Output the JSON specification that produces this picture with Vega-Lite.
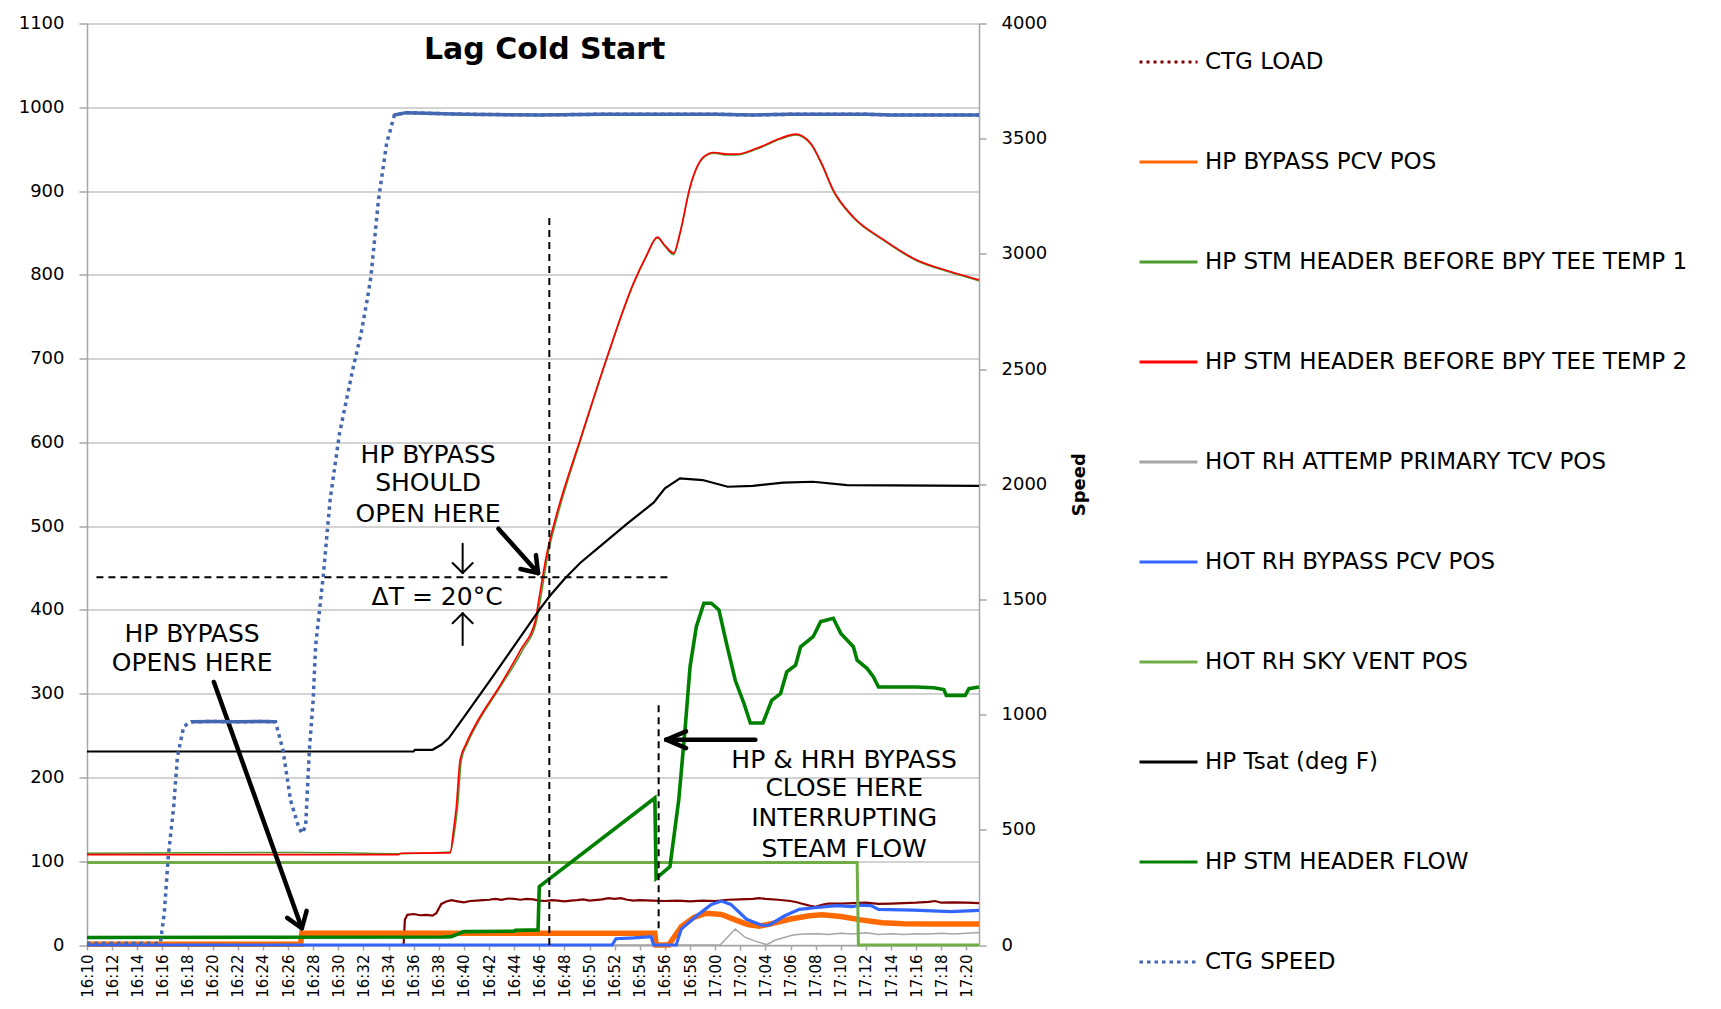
{
  "$schema": "https://vega.github.io/schema/vega-lite/v6.json",
  "width": 892,
  "height": 921.5,
  "autosize": {"type": "none"},
  "padding": {"left": 87, "top": 23.5, "right": 742, "bottom": 64},
  "background": "white",
  "config": {
    "view": {"stroke": null},
    "font": "DejaVu Sans",
    "axis": {"labelFont": "DejaVu Sans", "labelColor": "#000000", "domainColor": "#a6a6a6", "tickColor": "#a6a6a6", "domainWidth": 1.5, "tickWidth": 1.5},
    "axisX": {"labelOverlap": false, "labelFlush": false, "labelBound": false, "labelAngle": 270, "labelFontSize": 15, "tickSize": 5, "labelPadding": 4, "tickCount": 40}
  },
  "datasets": {
    "ctg_load": [
      {"t": "2024-01-01T16:10:00", "v": 0}, {"t": "2024-01-01T16:35:12", "v": 0}, {"t": "2024-01-01T16:35:18", "v": 30}, {"t": "2024-01-01T16:35:30", "v": 36},
      {"t": "2024-01-01T16:36:00", "v": 37}, {"t": "2024-01-01T16:36:30", "v": 35.5}, {"t": "2024-01-01T16:37:00", "v": 36}, {"t": "2024-01-01T16:37:30", "v": 35},
      {"t": "2024-01-01T16:37:48", "v": 38}, {"t": "2024-01-01T16:38:12", "v": 49}, {"t": "2024-01-01T16:38:36", "v": 52}, {"t": "2024-01-01T16:39:00", "v": 53.5},
      {"t": "2024-01-01T16:39:30", "v": 52}, {"t": "2024-01-01T16:40:00", "v": 51}, {"t": "2024-01-01T16:40:30", "v": 52.5}, {"t": "2024-01-01T16:41:00", "v": 53},
      {"t": "2024-01-01T16:41:30", "v": 53.5}, {"t": "2024-01-01T16:42:00", "v": 54}, {"t": "2024-01-01T16:42:30", "v": 55}, {"t": "2024-01-01T16:43:00", "v": 54},
      {"t": "2024-01-01T16:43:30", "v": 55.5}, {"t": "2024-01-01T16:44:00", "v": 55}, {"t": "2024-01-01T16:44:30", "v": 54}, {"t": "2024-01-01T16:45:00", "v": 55},
      {"t": "2024-01-01T16:45:30", "v": 54.5}, {"t": "2024-01-01T16:46:00", "v": 53}, {"t": "2024-01-01T16:46:30", "v": 52.5}, {"t": "2024-01-01T16:47:00", "v": 53.5},
      {"t": "2024-01-01T16:47:30", "v": 53}, {"t": "2024-01-01T16:48:00", "v": 52}, {"t": "2024-01-01T16:48:30", "v": 53}, {"t": "2024-01-01T16:49:00", "v": 53.5},
      {"t": "2024-01-01T16:49:30", "v": 54.5}, {"t": "2024-01-01T16:50:00", "v": 53}, {"t": "2024-01-01T16:51:00", "v": 54.5}, {"t": "2024-01-01T16:51:30", "v": 56},
      {"t": "2024-01-01T16:52:00", "v": 55}, {"t": "2024-01-01T16:52:30", "v": 56}, {"t": "2024-01-01T16:53:00", "v": 54}, {"t": "2024-01-01T16:53:30", "v": 53},
      {"t": "2024-01-01T16:54:00", "v": 53.5}, {"t": "2024-01-01T16:55:00", "v": 53}, {"t": "2024-01-01T16:56:00", "v": 52.5}, {"t": "2024-01-01T16:57:00", "v": 53},
      {"t": "2024-01-01T16:58:00", "v": 52}, {"t": "2024-01-01T16:59:00", "v": 53}, {"t": "2024-01-01T17:00:00", "v": 52.5}, {"t": "2024-01-01T17:01:00", "v": 54},
      {"t": "2024-01-01T17:02:00", "v": 54.5}, {"t": "2024-01-01T17:03:00", "v": 55}, {"t": "2024-01-01T17:03:30", "v": 56}, {"t": "2024-01-01T17:04:00", "v": 55},
      {"t": "2024-01-01T17:05:00", "v": 54}, {"t": "2024-01-01T17:06:00", "v": 52.5}, {"t": "2024-01-01T17:06:30", "v": 51}, {"t": "2024-01-01T17:07:00", "v": 49},
      {"t": "2024-01-01T17:07:30", "v": 47}, {"t": "2024-01-01T17:08:00", "v": 45.7}, {"t": "2024-01-01T17:08:30", "v": 48}, {"t": "2024-01-01T17:09:00", "v": 49.5},
      {"t": "2024-01-01T17:10:00", "v": 49.5}, {"t": "2024-01-01T17:11:00", "v": 50}, {"t": "2024-01-01T17:12:00", "v": 50.5}, {"t": "2024-01-01T17:13:00", "v": 49},
      {"t": "2024-01-01T17:14:00", "v": 49.5}, {"t": "2024-01-01T17:15:00", "v": 50}, {"t": "2024-01-01T17:16:00", "v": 50.5}, {"t": "2024-01-01T17:17:00", "v": 51.5},
      {"t": "2024-01-01T17:17:30", "v": 52.5}, {"t": "2024-01-01T17:18:00", "v": 50.5}, {"t": "2024-01-01T17:19:00", "v": 51}, {"t": "2024-01-01T17:20:00", "v": 50.5},
      {"t": "2024-01-01T17:21:00", "v": 50}
    ],
    "hp_bypass": [
      {"t": "2024-01-01T16:10:00", "v": 1}, {"t": "2024-01-01T16:27:00", "v": 1}, {"t": "2024-01-01T16:27:06", "v": 14}, {"t": "2024-01-01T16:55:12", "v": 14},
      {"t": "2024-01-01T16:55:18", "v": 0}, {"t": "2024-01-01T16:56:18", "v": 0}, {"t": "2024-01-01T16:57:18", "v": 22}, {"t": "2024-01-01T16:58:18", "v": 33},
      {"t": "2024-01-01T16:59:18", "v": 38}, {"t": "2024-01-01T17:00:30", "v": 36.5}, {"t": "2024-01-01T17:01:36", "v": 30}, {"t": "2024-01-01T17:02:36", "v": 24.5},
      {"t": "2024-01-01T17:03:30", "v": 22.5}, {"t": "2024-01-01T17:04:30", "v": 25.5}, {"t": "2024-01-01T17:06:00", "v": 31}, {"t": "2024-01-01T17:07:30", "v": 35},
      {"t": "2024-01-01T17:08:30", "v": 36}, {"t": "2024-01-01T17:10:00", "v": 34}, {"t": "2024-01-01T17:11:36", "v": 30}, {"t": "2024-01-01T17:13:18", "v": 26.5},
      {"t": "2024-01-01T17:15:00", "v": 25.5}, {"t": "2024-01-01T17:17:18", "v": 25}, {"t": "2024-01-01T17:21:00", "v": 25}
    ],
    "temp1": [
      {"t": "2024-01-01T16:10:00", "v": 109.5}, {"t": "2024-01-01T16:27:30", "v": 110.5}, {"t": "2024-01-01T16:30:30", "v": 110}, {"t": "2024-01-01T16:34:48", "v": 109},
      {"t": "2024-01-01T16:38:54", "v": 111}, {"t": "2024-01-01T16:39:18", "v": 140}, {"t": "2024-01-01T16:39:30", "v": 165}, {"t": "2024-01-01T16:39:48", "v": 221},
      {"t": "2024-01-01T16:40:18", "v": 241}, {"t": "2024-01-01T16:41:06", "v": 265}, {"t": "2024-01-01T16:42:54", "v": 308}, {"t": "2024-01-01T16:44:36", "v": 350},
      {"t": "2024-01-01T16:45:48", "v": 388}, {"t": "2024-01-01T16:46:00", "v": 404}, {"t": "2024-01-01T16:46:42", "v": 467}, {"t": "2024-01-01T16:47:30", "v": 515},
      {"t": "2024-01-01T16:49:18", "v": 603}, {"t": "2024-01-01T16:51:24", "v": 701}, {"t": "2024-01-01T16:53:30", "v": 789}, {"t": "2024-01-01T16:54:30", "v": 821},
      {"t": "2024-01-01T16:55:24", "v": 844}, {"t": "2024-01-01T16:56:00", "v": 834}, {"t": "2024-01-01T16:56:42", "v": 824}, {"t": "2024-01-01T16:57:12", "v": 849},
      {"t": "2024-01-01T16:58:00", "v": 904}, {"t": "2024-01-01T16:59:06", "v": 940}, {"t": "2024-01-01T16:59:54", "v": 945}, {"t": "2024-01-01T17:01:00", "v": 943},
      {"t": "2024-01-01T17:01:42", "v": 943}, {"t": "2024-01-01T17:03:18", "v": 950}, {"t": "2024-01-01T17:05:12", "v": 962}, {"t": "2024-01-01T17:06:24", "v": 967},
      {"t": "2024-01-01T17:07:36", "v": 956}, {"t": "2024-01-01T17:08:30", "v": 931}, {"t": "2024-01-01T17:09:24", "v": 900}, {"t": "2024-01-01T17:11:00", "v": 868},
      {"t": "2024-01-01T17:13:24", "v": 841}, {"t": "2024-01-01T17:16:00", "v": 817}, {"t": "2024-01-01T17:18:42", "v": 803}, {"t": "2024-01-01T17:21:00", "v": 793}
    ],
    "temp2": [
      {"t": "2024-01-01T16:10:00", "v": 108}, {"t": "2024-01-01T16:34:48", "v": 108}, {"t": "2024-01-01T16:35:00", "v": 109.5}, {"t": "2024-01-01T16:38:54", "v": 110},
      {"t": "2024-01-01T16:39:12", "v": 140}, {"t": "2024-01-01T16:39:24", "v": 165}, {"t": "2024-01-01T16:39:42", "v": 221}, {"t": "2024-01-01T16:40:12", "v": 241},
      {"t": "2024-01-01T16:41:00", "v": 265}, {"t": "2024-01-01T16:42:48", "v": 308}, {"t": "2024-01-01T16:44:30", "v": 352}, {"t": "2024-01-01T16:45:42", "v": 388},
      {"t": "2024-01-01T16:45:54", "v": 406}, {"t": "2024-01-01T16:46:36", "v": 467}, {"t": "2024-01-01T16:47:24", "v": 515}, {"t": "2024-01-01T16:49:15", "v": 603},
      {"t": "2024-01-01T16:51:24", "v": 702}, {"t": "2024-01-01T16:53:30", "v": 790}, {"t": "2024-01-01T16:54:30", "v": 822}, {"t": "2024-01-01T16:55:24", "v": 845},
      {"t": "2024-01-01T16:56:00", "v": 835}, {"t": "2024-01-01T16:56:42", "v": 826}, {"t": "2024-01-01T16:57:12", "v": 850}, {"t": "2024-01-01T16:58:00", "v": 905},
      {"t": "2024-01-01T16:59:06", "v": 941}, {"t": "2024-01-01T16:59:54", "v": 946}, {"t": "2024-01-01T17:01:00", "v": 944}, {"t": "2024-01-01T17:01:42", "v": 944},
      {"t": "2024-01-01T17:03:18", "v": 951}, {"t": "2024-01-01T17:05:12", "v": 963}, {"t": "2024-01-01T17:06:24", "v": 968}, {"t": "2024-01-01T17:07:36", "v": 957},
      {"t": "2024-01-01T17:08:30", "v": 932}, {"t": "2024-01-01T17:09:24", "v": 901}, {"t": "2024-01-01T17:11:00", "v": 869}, {"t": "2024-01-01T17:13:24", "v": 842},
      {"t": "2024-01-01T17:16:00", "v": 818}, {"t": "2024-01-01T17:18:42", "v": 804}, {"t": "2024-01-01T17:21:00", "v": 794}
    ],
    "attemp": [
      {"t": "2024-01-01T16:10:00", "v": 0}, {"t": "2024-01-01T17:00:24", "v": 0}, {"t": "2024-01-01T17:01:36", "v": 19}, {"t": "2024-01-01T17:02:24", "v": 9},
      {"t": "2024-01-01T17:03:18", "v": 4}, {"t": "2024-01-01T17:04:06", "v": 0.5}, {"t": "2024-01-01T17:04:48", "v": 6}, {"t": "2024-01-01T17:06:12", "v": 12},
      {"t": "2024-01-01T17:07:00", "v": 13}, {"t": "2024-01-01T17:08:12", "v": 13.5}, {"t": "2024-01-01T17:09:00", "v": 12.5}, {"t": "2024-01-01T17:10:00", "v": 14},
      {"t": "2024-01-01T17:11:00", "v": 13}, {"t": "2024-01-01T17:12:00", "v": 14.5}, {"t": "2024-01-01T17:13:00", "v": 12.5}, {"t": "2024-01-01T17:14:00", "v": 13.5},
      {"t": "2024-01-01T17:15:00", "v": 12.5}, {"t": "2024-01-01T17:16:00", "v": 13.5}, {"t": "2024-01-01T17:17:00", "v": 13}, {"t": "2024-01-01T17:18:00", "v": 14},
      {"t": "2024-01-01T17:19:00", "v": 13}, {"t": "2024-01-01T17:20:00", "v": 14}, {"t": "2024-01-01T17:21:00", "v": 15}
    ],
    "hrh_bypass": [
      {"t": "2024-01-01T16:10:00", "v": 0}, {"t": "2024-01-01T16:51:48", "v": 0}, {"t": "2024-01-01T16:52:06", "v": 7.5}, {"t": "2024-01-01T16:53:30", "v": 8.5},
      {"t": "2024-01-01T16:54:54", "v": 10}, {"t": "2024-01-01T16:55:06", "v": 0}, {"t": "2024-01-01T16:56:54", "v": 0}, {"t": "2024-01-01T16:57:18", "v": 19},
      {"t": "2024-01-01T16:58:30", "v": 34.6}, {"t": "2024-01-01T16:59:42", "v": 48.4}, {"t": "2024-01-01T17:00:30", "v": 52.4}, {"t": "2024-01-01T17:01:15", "v": 48.4},
      {"t": "2024-01-01T17:02:30", "v": 30.7}, {"t": "2024-01-01T17:03:42", "v": 23.6}, {"t": "2024-01-01T17:04:18", "v": 23.6}, {"t": "2024-01-01T17:05:30", "v": 34.6},
      {"t": "2024-01-01T17:06:42", "v": 42.5}, {"t": "2024-01-01T17:07:54", "v": 44.5}, {"t": "2024-01-01T17:09:42", "v": 47}, {"t": "2024-01-01T17:10:54", "v": 45.7},
      {"t": "2024-01-01T17:11:30", "v": 47.5}, {"t": "2024-01-01T17:12:24", "v": 47}, {"t": "2024-01-01T17:13:00", "v": 42.5}, {"t": "2024-01-01T17:15:45", "v": 41.7},
      {"t": "2024-01-01T17:18:45", "v": 39.8}, {"t": "2024-01-01T17:21:00", "v": 41.3}
    ],
    "sky_vent": [
      {"t": "2024-01-01T16:10:00", "v": 98.5}, {"t": "2024-01-01T17:11:18", "v": 98.5}, {"t": "2024-01-01T17:11:24", "v": 0}, {"t": "2024-01-01T17:21:00", "v": 0}
    ],
    "tsat": [
      {"t": "2024-01-01T16:10:00", "v": 231}, {"t": "2024-01-01T16:36:00", "v": 231}, {"t": "2024-01-01T16:36:06", "v": 233}, {"t": "2024-01-01T16:37:30", "v": 233},
      {"t": "2024-01-01T16:38:12", "v": 239}, {"t": "2024-01-01T16:38:48", "v": 247}, {"t": "2024-01-01T16:40:00", "v": 272}, {"t": "2024-01-01T16:42:00", "v": 314},
      {"t": "2024-01-01T16:44:00", "v": 357}, {"t": "2024-01-01T16:46:00", "v": 400}, {"t": "2024-01-01T16:46:48", "v": 416}, {"t": "2024-01-01T16:48:00", "v": 437},
      {"t": "2024-01-01T16:49:15", "v": 456}, {"t": "2024-01-01T16:51:00", "v": 478}, {"t": "2024-01-01T16:53:00", "v": 503}, {"t": "2024-01-01T16:55:06", "v": 528},
      {"t": "2024-01-01T16:56:00", "v": 545}, {"t": "2024-01-01T16:57:12", "v": 557}, {"t": "2024-01-01T16:59:00", "v": 555}, {"t": "2024-01-01T17:01:00", "v": 547},
      {"t": "2024-01-01T17:03:00", "v": 548}, {"t": "2024-01-01T17:05:24", "v": 552}, {"t": "2024-01-01T17:07:48", "v": 553}, {"t": "2024-01-01T17:10:30", "v": 549},
      {"t": "2024-01-01T17:21:00", "v": 548}
    ],
    "flow": [
      {"t": "2024-01-01T16:10:00", "v": 9}, {"t": "2024-01-01T16:38:24", "v": 9.5}, {"t": "2024-01-01T16:39:00", "v": 10}, {"t": "2024-01-01T16:40:00", "v": 16},
      {"t": "2024-01-01T16:44:00", "v": 16.5}, {"t": "2024-01-01T16:44:06", "v": 17.5}, {"t": "2024-01-01T16:45:54", "v": 18}, {"t": "2024-01-01T16:46:00", "v": 69.6},
      {"t": "2024-01-01T16:55:12", "v": 175.5}, {"t": "2024-01-01T16:55:18", "v": 79.6}, {"t": "2024-01-01T16:56:24", "v": 93.5}, {"t": "2024-01-01T16:57:06", "v": 173},
      {"t": "2024-01-01T16:57:36", "v": 257}, {"t": "2024-01-01T16:58:00", "v": 332}, {"t": "2024-01-01T16:58:30", "v": 380}, {"t": "2024-01-01T16:59:06", "v": 408},
      {"t": "2024-01-01T16:59:42", "v": 408}, {"t": "2024-01-01T17:00:18", "v": 400}, {"t": "2024-01-01T17:00:54", "v": 360}, {"t": "2024-01-01T17:01:36", "v": 316},
      {"t": "2024-01-01T17:02:18", "v": 288}, {"t": "2024-01-01T17:02:48", "v": 265}, {"t": "2024-01-01T17:03:48", "v": 265}, {"t": "2024-01-01T17:04:30", "v": 292},
      {"t": "2024-01-01T17:05:12", "v": 300}, {"t": "2024-01-01T17:05:42", "v": 326}, {"t": "2024-01-01T17:06:24", "v": 334}, {"t": "2024-01-01T17:06:48", "v": 356},
      {"t": "2024-01-01T17:07:48", "v": 368}, {"t": "2024-01-01T17:08:24", "v": 386}, {"t": "2024-01-01T17:09:24", "v": 390}, {"t": "2024-01-01T17:10:00", "v": 372},
      {"t": "2024-01-01T17:11:00", "v": 356}, {"t": "2024-01-01T17:11:18", "v": 340}, {"t": "2024-01-01T17:12:06", "v": 330}, {"t": "2024-01-01T17:12:36", "v": 320},
      {"t": "2024-01-01T17:13:00", "v": 308}, {"t": "2024-01-01T17:16:00", "v": 308}, {"t": "2024-01-01T17:17:24", "v": 307}, {"t": "2024-01-01T17:18:12", "v": 305},
      {"t": "2024-01-01T17:18:24", "v": 298}, {"t": "2024-01-01T17:19:54", "v": 298}, {"t": "2024-01-01T17:20:12", "v": 306}, {"t": "2024-01-01T17:21:00", "v": 308}
    ],
    "ctg_speed": [
      {"t": "2024-01-01T16:10:00", "v": 8}, {"t": "2024-01-01T16:15:50", "v": 8}, {"t": "2024-01-01T16:16:09", "v": 137}, {"t": "2024-01-01T16:16:28", "v": 384},
      {"t": "2024-01-01T16:16:54", "v": 600}, {"t": "2024-01-01T16:17:12", "v": 818}, {"t": "2024-01-01T16:17:42", "v": 949}, {"t": "2024-01-01T16:18:18", "v": 969},
      {"t": "2024-01-01T16:20:00", "v": 970}, {"t": "2024-01-01T16:22:00", "v": 969}, {"t": "2024-01-01T16:24:00", "v": 970}, {"t": "2024-01-01T16:25:00", "v": 969},
      {"t": "2024-01-01T16:25:36", "v": 846}, {"t": "2024-01-01T16:26:12", "v": 629}, {"t": "2024-01-01T16:26:48", "v": 520}, {"t": "2024-01-01T16:27:06", "v": 485},
      {"t": "2024-01-01T16:27:24", "v": 514}, {"t": "2024-01-01T16:27:42", "v": 846}, {"t": "2024-01-01T16:28:00", "v": 1062}, {"t": "2024-01-01T16:28:12", "v": 1300},
      {"t": "2024-01-01T16:28:48", "v": 1599}, {"t": "2024-01-01T16:29:21", "v": 1932}, {"t": "2024-01-01T16:30:06", "v": 2221}, {"t": "2024-01-01T16:31:12", "v": 2510},
      {"t": "2024-01-01T16:31:48", "v": 2650}, {"t": "2024-01-01T16:32:18", "v": 2800}, {"t": "2024-01-01T16:32:36", "v": 2901}, {"t": "2024-01-01T16:33:12", "v": 3234},
      {"t": "2024-01-01T16:33:51", "v": 3480}, {"t": "2024-01-01T16:34:09", "v": 3538}, {"t": "2024-01-01T16:34:28", "v": 3603}, {"t": "2024-01-01T16:35:24", "v": 3613},
      {"t": "2024-01-01T16:40:00", "v": 3606}, {"t": "2024-01-01T16:46:00", "v": 3603}, {"t": "2024-01-01T16:51:00", "v": 3606}, {"t": "2024-01-01T16:56:00", "v": 3606},
      {"t": "2024-01-01T17:00:00", "v": 3606}, {"t": "2024-01-01T17:03:00", "v": 3603}, {"t": "2024-01-01T17:06:00", "v": 3606}, {"t": "2024-01-01T17:12:00", "v": 3606},
      {"t": "2024-01-01T17:14:00", "v": 3603}, {"t": "2024-01-01T17:21:00", "v": 3603}
    ],
    "dashes": [
      {"t": "2024-01-01T16:46:48", "t2": "2024-01-01T16:46:48", "v": 0, "v2": 869},
      {"t": "2024-01-01T16:55:30", "t2": "2024-01-01T16:55:30", "v": 20, "v2": 292},
      {"t": "2024-01-01T16:10:45", "t2": "2024-01-01T16:56:20", "v": 439, "v2": 439}
    ],
    "arrows": [
      {"w": "thick", "t": "2024-01-01T16:20:06", "v": 314, "t2": "2024-01-01T16:27:06", "v2": 20},
      {"w": "thick", "t": "2024-01-01T16:27:06", "v": 20, "t2": "2024-01-01T16:27:29", "v2": 40.8},
      {"w": "thick", "t": "2024-01-01T16:27:06", "v": 20, "t2": "2024-01-01T16:25:56", "v2": 32.4},
      {"w": "thick", "t": "2024-01-01T16:42:45", "v": 497, "t2": "2024-01-01T16:45:54", "v2": 444},
      {"w": "thick", "t": "2024-01-01T16:45:54", "v": 444, "t2": "2024-01-01T16:45:44", "v2": 465.4},
      {"w": "thick", "t": "2024-01-01T16:45:54", "v": 444, "t2": "2024-01-01T16:44:30", "v2": 448.9},
      {"w": "thick", "t": "2024-01-01T17:03:12", "v": 245, "t2": "2024-01-01T16:56:06", "v2": 245},
      {"w": "thick", "t": "2024-01-01T16:56:06", "v": 245, "t2": "2024-01-01T16:57:41", "v2": 255},
      {"w": "thick", "t": "2024-01-01T16:56:06", "v": 245, "t2": "2024-01-01T16:57:41", "v2": 235},
      {"w": "thin", "t": "2024-01-01T16:39:54", "v": 479, "t2": "2024-01-01T16:39:54", "v2": 444},
      {"w": "thin", "t": "2024-01-01T16:39:54", "v": 444, "t2": "2024-01-01T16:39:06", "v2": 456},
      {"w": "thin", "t": "2024-01-01T16:39:54", "v": 444, "t2": "2024-01-01T16:40:42", "v2": 456},
      {"w": "thin", "t": "2024-01-01T16:39:54", "v": 358, "t2": "2024-01-01T16:39:54", "v2": 396},
      {"w": "thin", "t": "2024-01-01T16:39:54", "v": 396, "t2": "2024-01-01T16:39:06", "v2": 384},
      {"w": "thin", "t": "2024-01-01T16:39:54", "v": 396, "t2": "2024-01-01T16:40:42", "v2": 384}
    ],
    "notes": [
      {"t": "2024-01-01T16:37:09", "v": 585, "label": "HP BYPASS"},
      {"t": "2024-01-01T16:37:09", "v": 551, "label": "SHOULD"},
      {"t": "2024-01-01T16:37:09", "v": 515, "label": "OPEN HERE"},
      {"t": "2024-01-01T16:37:52", "v": 415, "label": "ΔT = 20°C"},
      {"t": "2024-01-01T16:18:22", "v": 371, "label": "HP BYPASS"},
      {"t": "2024-01-01T16:18:22", "v": 337, "label": "OPENS HERE"},
      {"t": "2024-01-01T17:10:16", "v": 221, "label": "HP & HRH BYPASS"},
      {"t": "2024-01-01T17:10:16", "v": 187, "label": "CLOSE HERE"},
      {"t": "2024-01-01T17:10:16", "v": 152, "label": "INTERRUPTING"},
      {"t": "2024-01-01T17:10:16", "v": 115, "label": "STEAM FLOW"}
    ],
    "heading": [
      {"t": "2024-01-01T16:46:26", "v": 1068, "label": "Lag Cold Start"}
    ]
  },
  "layer": [
    {
      "layer": [
        {
          "data": {"name": "ctg_load"},
          "mark": {"type": "line", "strokeWidth": 2.2},
          "encoding": {
            "x": {
              "field": "t", "type": "temporal",
              "scale": {"domain": [{"year": 2024, "month": 1, "date": 1, "hours": 16, "minutes": 10}, {"year": 2024, "month": 1, "date": 1, "hours": 17, "minutes": 21}]},
              "axis": {"title": null, "format": "%H:%M", "labelAngle": 270, "tickCount": 40,
                "values": [
                  {"year": 2024, "month": 1, "date": 1, "hours": 16, "minutes": 10}, {"year": 2024, "month": 1, "date": 1, "hours": 16, "minutes": 12},
                  {"year": 2024, "month": 1, "date": 1, "hours": 16, "minutes": 14}, {"year": 2024, "month": 1, "date": 1, "hours": 16, "minutes": 16},
                  {"year": 2024, "month": 1, "date": 1, "hours": 16, "minutes": 18}, {"year": 2024, "month": 1, "date": 1, "hours": 16, "minutes": 20},
                  {"year": 2024, "month": 1, "date": 1, "hours": 16, "minutes": 22}, {"year": 2024, "month": 1, "date": 1, "hours": 16, "minutes": 24},
                  {"year": 2024, "month": 1, "date": 1, "hours": 16, "minutes": 26}, {"year": 2024, "month": 1, "date": 1, "hours": 16, "minutes": 28},
                  {"year": 2024, "month": 1, "date": 1, "hours": 16, "minutes": 30}, {"year": 2024, "month": 1, "date": 1, "hours": 16, "minutes": 32},
                  {"year": 2024, "month": 1, "date": 1, "hours": 16, "minutes": 34}, {"year": 2024, "month": 1, "date": 1, "hours": 16, "minutes": 36},
                  {"year": 2024, "month": 1, "date": 1, "hours": 16, "minutes": 38}, {"year": 2024, "month": 1, "date": 1, "hours": 16, "minutes": 40},
                  {"year": 2024, "month": 1, "date": 1, "hours": 16, "minutes": 42}, {"year": 2024, "month": 1, "date": 1, "hours": 16, "minutes": 44},
                  {"year": 2024, "month": 1, "date": 1, "hours": 16, "minutes": 46}, {"year": 2024, "month": 1, "date": 1, "hours": 16, "minutes": 48},
                  {"year": 2024, "month": 1, "date": 1, "hours": 16, "minutes": 50}, {"year": 2024, "month": 1, "date": 1, "hours": 16, "minutes": 52},
                  {"year": 2024, "month": 1, "date": 1, "hours": 16, "minutes": 54}, {"year": 2024, "month": 1, "date": 1, "hours": 16, "minutes": 56},
                  {"year": 2024, "month": 1, "date": 1, "hours": 16, "minutes": 58}, {"year": 2024, "month": 1, "date": 1, "hours": 17, "minutes": 0},
                  {"year": 2024, "month": 1, "date": 1, "hours": 17, "minutes": 2}, {"year": 2024, "month": 1, "date": 1, "hours": 17, "minutes": 4},
                  {"year": 2024, "month": 1, "date": 1, "hours": 17, "minutes": 6}, {"year": 2024, "month": 1, "date": 1, "hours": 17, "minutes": 8},
                  {"year": 2024, "month": 1, "date": 1, "hours": 17, "minutes": 10}, {"year": 2024, "month": 1, "date": 1, "hours": 17, "minutes": 12},
                  {"year": 2024, "month": 1, "date": 1, "hours": 17, "minutes": 14}, {"year": 2024, "month": 1, "date": 1, "hours": 17, "minutes": 16},
                  {"year": 2024, "month": 1, "date": 1, "hours": 17, "minutes": 18}, {"year": 2024, "month": 1, "date": 1, "hours": 17, "minutes": 20}
                ],
                "labelFontSize": 15, "tickSize": 5, "labelPadding": 4, "grid": false, "labelOverlap": false, "labelFlush": false, "labelBound": false}
            },
            "y": {
              "field": "v", "type": "quantitative",
              "scale": {"domain": [0, 1100], "nice": false, "zero": true},
              "axis": {"title": null, "format": "d", "values": [0, 100, 200, 300, 400, 500, 600, 700, 800, 900, 1000, 1100], "grid": true, "gridColor": "#c4c4c4", "gridWidth": 1.5, "tickSize": 8, "labelPadding": 15, "labelFontSize": 18}
            },
            "color": {
              "datum": "CTG LOAD", "type": "nominal",
              "scale": {
                "domain": ["CTG LOAD", "HP BYPASS PCV POS", "HP STM HEADER BEFORE BPY TEE TEMP 1", "HP STM HEADER BEFORE BPY TEE TEMP 2", "HOT RH ATTEMP PRIMARY TCV POS", "HOT RH BYPASS PCV POS", "HOT RH SKY VENT POS", "HP Tsat (deg F)", "HP STM HEADER FLOW", "CTG SPEED"],
                "range": ["#7f0000", "#ff6a00", "#4e9a2e", "#ff0000", "#a6a6a6", "#3366ff", "#70ad47", "#000000", "#008000", "#4468b0"]
              },
              "legend": {
                "orient": "none", "legendX": 1051, "legendY": 8, "title": null,
                "labelFont": "DejaVu Sans", "labelFontSize": 23, "labelColor": "#000000", "labelLimit": 700, "labelOffset": 6,
                "symbolType": "stroke", "symbolSize": 3364, "symbolStrokeWidth": 3, "rowPadding": 57, "padding": 0
              }
            }
          }
        },
        {
          "data": {"name": "hp_bypass"},
          "mark": {"type": "line", "strokeWidth": 5.5},
          "encoding": {"x": {"field": "t", "type": "temporal"}, "y": {"field": "v", "type": "quantitative"}, "color": {"datum": "HP BYPASS PCV POS", "type": "nominal"}}
        },
        {
          "data": {"name": "temp1"},
          "mark": {"type": "line", "strokeWidth": 1.5, "interpolate": "monotone"},
          "encoding": {"x": {"field": "t", "type": "temporal"}, "y": {"field": "v", "type": "quantitative"}, "color": {"datum": "HP STM HEADER BEFORE BPY TEE TEMP 1", "type": "nominal"}}
        },
        {
          "data": {"name": "temp2"},
          "mark": {"type": "line", "strokeWidth": 1.7, "interpolate": "monotone"},
          "encoding": {"x": {"field": "t", "type": "temporal"}, "y": {"field": "v", "type": "quantitative"}, "color": {"datum": "HP STM HEADER BEFORE BPY TEE TEMP 2", "type": "nominal"}}
        },
        {
          "data": {"name": "attemp"},
          "mark": {"type": "line", "strokeWidth": 1.5},
          "encoding": {"x": {"field": "t", "type": "temporal"}, "y": {"field": "v", "type": "quantitative"}, "color": {"datum": "HOT RH ATTEMP PRIMARY TCV POS", "type": "nominal"}}
        },
        {
          "data": {"name": "hrh_bypass"},
          "mark": {"type": "line", "strokeWidth": 3.2},
          "encoding": {"x": {"field": "t", "type": "temporal"}, "y": {"field": "v", "type": "quantitative"}, "color": {"datum": "HOT RH BYPASS PCV POS", "type": "nominal"}}
        },
        {
          "data": {"name": "sky_vent"},
          "mark": {"type": "line", "strokeWidth": 3},
          "encoding": {"x": {"field": "t", "type": "temporal"}, "y": {"field": "v", "type": "quantitative"}, "color": {"datum": "HOT RH SKY VENT POS", "type": "nominal"}}
        },
        {
          "data": {"name": "tsat"},
          "mark": {"type": "line", "strokeWidth": 2.2},
          "encoding": {"x": {"field": "t", "type": "temporal"}, "y": {"field": "v", "type": "quantitative"}, "color": {"datum": "HP Tsat (deg F)", "type": "nominal"}}
        },
        {
          "data": {"name": "flow"},
          "mark": {"type": "line", "strokeWidth": 3.6},
          "encoding": {"x": {"field": "t", "type": "temporal"}, "y": {"field": "v", "type": "quantitative"}, "color": {"datum": "HP STM HEADER FLOW", "type": "nominal"}}
        },
        {
          "data": {"name": "dashes"},
          "mark": {"type": "rule", "color": "#000000", "strokeWidth": 2, "strokeDash": [7, 5]},
          "encoding": {"x": {"field": "t", "type": "temporal"}, "x2": {"field": "t2"}, "y": {"field": "v", "type": "quantitative"}, "y2": {"field": "v2"}}
        },
        {
          "data": {"name": "arrows"},
          "transform": [{"filter": "datum.w === 'thick'"}],
          "mark": {"type": "rule", "color": "#000000", "strokeWidth": 4.5, "strokeCap": "round"},
          "encoding": {"x": {"field": "t", "type": "temporal"}, "x2": {"field": "t2"}, "y": {"field": "v", "type": "quantitative"}, "y2": {"field": "v2"}}
        },
        {
          "data": {"name": "arrows"},
          "transform": [{"filter": "datum.w === 'thin'"}],
          "mark": {"type": "rule", "color": "#000000", "strokeWidth": 2, "strokeCap": "round"},
          "encoding": {"x": {"field": "t", "type": "temporal"}, "x2": {"field": "t2"}, "y": {"field": "v", "type": "quantitative"}, "y2": {"field": "v2"}}
        },
        {
          "data": {"name": "notes"},
          "mark": {"type": "text", "font": "DejaVu Sans", "fontSize": 25, "color": "#000000", "align": "center", "baseline": "middle"},
          "encoding": {"x": {"field": "t", "type": "temporal"}, "y": {"field": "v", "type": "quantitative"}, "text": {"field": "label"}}
        },
        {
          "data": {"name": "heading"},
          "mark": {"type": "text", "font": "DejaVu Sans", "fontSize": 30, "fontWeight": "bold", "color": "#000000", "align": "center", "baseline": "middle"},
          "encoding": {"x": {"field": "t", "type": "temporal"}, "y": {"field": "v", "type": "quantitative"}, "text": {"field": "label"}}
        }
      ]
    },
    {
      "data": {"name": "ctg_speed"},
      "layer": [
        {
          "mark": {"type": "line", "strokeWidth": 3.5},
          "encoding": {
            "x": {"field": "t", "type": "temporal"},
            "y": {
              "field": "v", "type": "quantitative",
              "scale": {"domain": [0, 4000], "nice": false},
              "axis": {"orient": "right", "title": "Speed", "format": "d", "values": [0, 500, 1000, 1500, 2000, 2500, 3000, 3500, 4000], "grid": false, "tickSize": 7, "labelPadding": 15, "labelFontSize": 18, "titleFont": "DejaVu Sans", "titleFontSize": 18, "titleFontWeight": "bold", "titleColor": "#000000", "titleAngle": 270, "titlePadding": 42}
            },
            "color": {"datum": "CTG SPEED", "type": "nominal"},
            "strokeDash": {
              "datum": "CTG SPEED", "type": "nominal",
              "scale": {
                "domain": ["CTG LOAD", "HP BYPASS PCV POS", "HP STM HEADER BEFORE BPY TEE TEMP 1", "HP STM HEADER BEFORE BPY TEE TEMP 2", "HOT RH ATTEMP PRIMARY TCV POS", "HOT RH BYPASS PCV POS", "HOT RH SKY VENT POS", "HP Tsat (deg F)", "HP STM HEADER FLOW", "CTG SPEED"],
                "range": [[3, 4], [1, 0], [1, 0], [1, 0], [1, 0], [1, 0], [1, 0], [1, 0], [1, 0], [3.5, 4]]
              }
            }
          }
        },
        {
          "transform": [{"filter": "hours(datum.t) * 60 + minutes(datum.t) + seconds(datum.t) / 60 >= 978.3 && hours(datum.t) * 60 + minutes(datum.t) + seconds(datum.t) / 60 <= 985"}],
          "mark": {"type": "line", "strokeWidth": 3.5},
          "encoding": {"x": {"field": "t", "type": "temporal"}, "y": {"field": "v", "type": "quantitative"}, "color": {"datum": "CTG SPEED", "type": "nominal"}}
        },
        {
          "transform": [{"filter": "hours(datum.t) * 60 + minutes(datum.t) + seconds(datum.t) / 60 >= 994.4"}],
          "mark": {"type": "line", "strokeWidth": 3.5},
          "encoding": {"x": {"field": "t", "type": "temporal"}, "y": {"field": "v", "type": "quantitative"}, "color": {"datum": "CTG SPEED", "type": "nominal"}}
        }
      ]
    }
  ],
  "resolve": {"scale": {"y": "independent"}}
}
